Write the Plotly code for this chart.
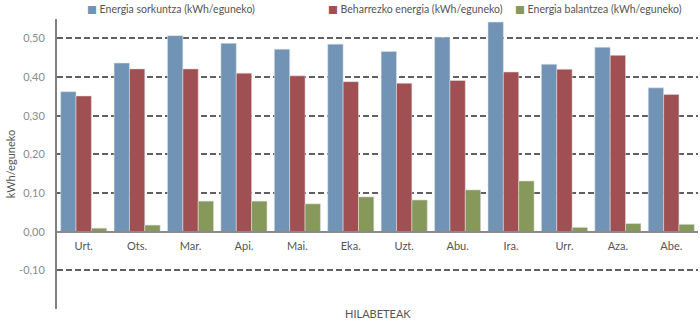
import plotly.graph_objects as go

# Monthly energy figures (kWh per day)
months = ["Urt.", "Ots.", "Mar.", "Api.", "Mai.", "Eka.",
          "Uzt.", "Abu.", "Ira.", "Urr.", "Aza.", "Abe."]
sorkuntza = [0.362, 0.436, 0.507, 0.487, 0.472, 0.485,
             0.466, 0.503, 0.542, 0.433, 0.477, 0.372]
beharrezkoa = [0.351, 0.421, 0.421, 0.410, 0.403, 0.388,
               0.384, 0.391, 0.413, 0.420, 0.456, 0.355]
balantzea = [0.009, 0.017, 0.079, 0.079, 0.072, 0.090,
             0.082, 0.108, 0.131, 0.011, 0.021, 0.019]

series_names = ["Energia sorkuntza (kWh/eguneko)",
                "Beharrezko energia (kWh/eguneko)",
                "Energia balantzea (kWh/eguneko)"]
colors = ["#7093B6", "#A04F52", "#86985A"]

y_tickvals = [-0.10, 0.00, 0.10, 0.20, 0.30, 0.40, 0.50]
y_ticktext = ["-0,10", "0,00", "0,10", "0,20", "0,30", "0,40", "0,50"]
y_range = [-0.20, 0.55]

FONT = "Lato, 'DejaVu Sans', sans-serif"
GREY_TEXT = "#6b6b6b"

fig = go.Figure()
for name, vals, col in zip(series_names, [sorkuntza, beharrezkoa, balantzea], colors):
    fig.add_trace(go.Bar(
        x=months, y=vals, name=name,
        marker=dict(color=col, line=dict(color="rgba(225,225,225,0.7)", width=0.8)),
        showlegend=False,
    ))

# Legend drawn as a row of coloured squares with labels above the plot
legend_x = [0.043, 0.419, 0.712]
for name, col, lx in zip(series_names, colors, legend_x):
    fig.add_annotation(
        x=lx, y=1.034, xref="paper", yref="paper",
        xanchor="left", yanchor="middle", showarrow=False,
        text=f'<span style="color:{col}">■</span> {name}',
        font=dict(family=FONT, size=10.5, color="#555555"),
    )

# Axis titles
fig.add_annotation(
    x=0.5, y=-0.014, xref="paper", yref="paper",
    xanchor="center", yanchor="middle", showarrow=False,
    text="HILABETEAK", font=dict(family=FONT, size=11, color="#555555"),
)
fig.add_annotation(
    x=-0.073, y=0.5, xref="paper", yref="paper",
    xanchor="center", yanchor="middle", showarrow=False, textangle=-90,
    text="kWh/eguneko", font=dict(family=FONT, size=11, color="#555555"),
)

zero_pos = (0 - y_range[0]) / (y_range[1] - y_range[0])

fig.update_layout(
    width=700, height=322,
    margin=dict(l=57, r=2, t=19, b=13),
    paper_bgcolor="white", plot_bgcolor="white",
    barmode="group", bargap=0.137, bargroupgap=0,
    font=dict(family=FONT, size=11, color=GREY_TEXT),
    xaxis=dict(
        type="category", anchor="free", position=zero_pos,
        showline=True, linecolor="#8a8a8a", linewidth=2,
        showgrid=False, ticks="", tickfont=dict(size=11, color="#555555"),
        ticklabelstandoff=4,
    ),
    yaxis=dict(
        range=y_range, tickvals=y_tickvals, ticktext=y_ticktext,
        showline=True, linecolor="#7f7f7f", linewidth=2,
        showgrid=True, gridcolor="#606060", gridwidth=1.6, griddash="6px,3px",
        zeroline=False, ticks="", ticklabelstandoff=8,
        tickfont=dict(size=11, color="#8a8a8a"),
    ),
)

fig.write_html("out.html")
